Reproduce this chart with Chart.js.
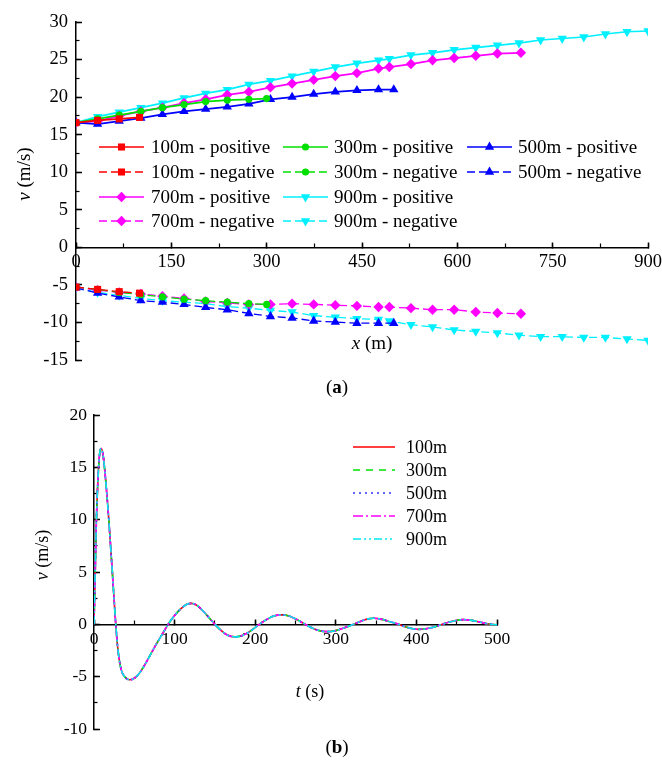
<!DOCTYPE html>
<html>
<head>
<meta charset="utf-8">
<script src="https://cdn.jsdelivr.net/npm/chart.js@4.4.1/dist/chart.umd.min.js"></script>
<style>
  html, body { margin: 0; padding: 0; background: #fff; }
  canvas { position: absolute; left: 0; }
</style>
</head>
<body>
<canvas id="chartA" width="662" height="400" style="top:0"></canvas>
<canvas id="chartB" width="662" height="367" style="top:400px"></canvas>
<script>
// panel (a): velocity along the line, positive and negative envelopes
const x100 = [0, 34, 68, 100];
const pos100 = [16.6, 16.9, 17.1, 17.3];
const neg100 = [-5.3, -5.6, -5.9, -6.1];

const x300 = [0, 34, 68, 102, 136, 170, 204, 238, 272, 300];
const pos300 = [16.6, 17.1, 17.6, 18.1, 18.6, 19.0, 19.4, 19.6, 19.7, 19.8];
const neg300 = [-5.3, -5.6, -6.0, -6.3, -6.6, -6.9, -7.1, -7.3, -7.5, -7.6];

const x500 = [0, 34, 68, 102, 136, 170, 204, 238, 272, 306, 340, 374, 408, 442, 476, 500];
const pos500 = [16.6, 16.4, 16.8, 17.2, 17.7, 18.1, 18.4, 18.7, 19.1, 19.7, 20.0, 20.4, 20.7, 20.9, 21.0, 21.0];
const neg500 = [-5.4, -6.1, -6.6, -7.1, -7.3, -7.6, -8.0, -8.3, -8.8, -9.2, -9.4, -9.8, -9.95, -10.1, -10.1, -10.1];

const x700 = [0, 34, 68, 102, 136, 170, 204, 238, 272, 306, 340, 374, 408, 442, 476, 493, 527, 561, 595, 629, 663, 700];
const pos700 = [16.6, 16.8, 17.5, 18.1, 18.6, 19.2, 19.7, 20.3, 20.7, 21.3, 21.8, 22.3, 22.8, 23.2, 23.8, 24.0, 24.4, 24.9, 25.2, 25.5, 25.8, 25.9];
const neg700 = [-5.3, -5.7, -6.0, -6.2, -6.5, -6.8, -7.2, -7.4, -7.6, -7.6, -7.5, -7.6, -7.7, -7.8, -7.95, -7.95, -8.1, -8.3, -8.3, -8.6, -8.75, -8.85];

const x900 = [0, 34, 68, 102, 136, 170, 204, 238, 272, 306, 340, 374, 408, 442, 476, 493, 527, 561, 595, 629, 663, 697, 731, 765, 799, 833, 867, 900];
const pos900 = [16.6, 17.4, 18.0, 18.6, 19.2, 19.9, 20.5, 21.0, 21.7, 22.2, 22.8, 23.4, 24.0, 24.5, 24.9, 25.1, 25.6, 25.9, 26.3, 26.6, 26.9, 27.2, 27.6, 27.8, 28.0, 28.4, 28.7, 28.8];
const neg900 = [-5.4, -6.0, -6.4, -6.8, -7.1, -7.3, -7.5, -7.9, -8.1, -8.4, -8.6, -9.1, -9.3, -9.5, -9.6, -9.8, -10.3, -10.6, -11.0, -11.2, -11.4, -11.7, -11.9, -11.9, -12.0, -12.0, -12.2, -12.4];

// panel (b): velocity history, the five lengths overlap
const lengths = ['100m', '300m', '500m', '700m', '900m'];
const tTime = [0, 1.5, 3, 5, 7, 9, 11, 13, 15, 17, 19, 21, 23, 25, 27, 29, 31, 34, 38, 44,
  49, 55, 62, 70, 78, 85, 92, 100, 108, 116, 121, 128, 135, 142, 150, 158, 166, 175, 183, 192,
  205, 215, 224, 233, 242, 252, 262, 272, 281, 290, 300, 310, 322, 332, 340, 347, 356, 366, 378, 388,
  396, 403, 412, 422, 432, 441, 450, 458, 467, 477, 488, 500];
const vTime = [0, 5, 10, 14, 16.3, 16.8, 16.3, 15, 13.3, 11.4, 9.3, 7, 4.7, 2.3, 0, -1.9, -3.2, -4.4, -5.0, -5.3,
  -5.2, -4.8, -4.0, -2.9, -1.8, -0.9, 0, 0.85, 1.5, 1.95, 2.0, 1.8, 1.3, 0.7, 0, -0.6, -1.05, -1.2, -1.1, -0.75,
  0, 0.5, 0.82, 0.9, 0.8, 0.45, 0, -0.4, -0.63, -0.7, -0.6, -0.35, 0, 0.33, 0.52, 0.58, 0.5, 0.28, 0, -0.28,
  -0.43, -0.48, -0.42, -0.25, 0, 0.22, 0.38, 0.45, 0.4, 0.25, 0.05, -0.05];

const serif = "'Liberation Serif', 'Times New Roman', serif";
Chart.defaults.font.family = serif;
Chart.defaults.color = '#000';

// styles
const seriesA = [
  { name: '100m', xs: x100, pos: pos100, neg: neg100, color: '#ff0000', style: 'rect', r: 5, rot: 0 },
  { name: '300m', xs: x300, pos: pos300, neg: neg300, color: '#00e000', style: 'circle', r: 3.6, rot: 0 },
  { name: '500m', xs: x500, pos: pos500, neg: neg500, color: '#0000ff', style: 'triangle', r: 5.4, rot: 0 },
  { name: '700m', xs: x700, pos: pos700, neg: neg700, color: '#ff00ff', style: 'rectRot', r: 5.2, rot: 0 },
  { name: '900m', xs: x900, pos: pos900, neg: neg900, color: '#00f0ff', style: 'triangle', r: 5.4, rot: 180 }
];
const negDash = [8, 4];

const dsA = [];
seriesA.forEach(s => {
  ['pos', 'neg'].forEach(k => {
    dsA.push({
      label: s.name + (k === 'pos' ? ' - positive' : ' - negative'),
      data: s.xs.map((x, i) => ({ x: x, y: s[k][i] })),
      borderColor: s.color,
      backgroundColor: s.color,
      borderWidth: k === 'pos' ? 1.7 : 1.3,
      borderDash: k === 'pos' ? [] : negDash,
      pointStyle: s.style,
      pointRadius: s.r,
      pointRotation: s.rot,
      pointBorderWidth: 0,
      showLine: true,
      tension: 0
    });
  });
});

function drawRuns(ctx, runs, x, y) {
  let total = 0;
  runs.forEach(r => { ctx.font = r[1]; total += ctx.measureText(r[0]).width; });
  let cx = x - total / 2;
  ctx.textAlign = 'left';
  ctx.textBaseline = 'middle';
  runs.forEach(r => { ctx.font = r[1]; ctx.fillText(r[0], cx, y); cx += ctx.measureText(r[0]).width; });
}

function legendLine(ctx, x0, x1, y, color, dash, width) {
  ctx.save();
  ctx.strokeStyle = color;
  ctx.lineWidth = width;
  ctx.setLineDash(dash);
  ctx.beginPath();
  ctx.moveTo(x0, y);
  ctx.lineTo(x1, y);
  ctx.stroke();
  ctx.restore();
}

const fontA = '19px ' + serif;
const italicA = 'italic 19px ' + serif;
const fontB = '18px ' + serif;
const italicB = 'italic 18px ' + serif;

// legend + titles for (a)
const decorA = {
  id: 'decorA',
  afterDraw(chart) {
    const ctx = chart.ctx;
    const lineStart = [99, 283, 467];
    const textX = [151, 334, 518];
    const rows = [
      { y: 147, idx: [0, 1, 2], k: 'pos' },
      { y: 172, idx: [0, 1, 2], k: 'neg' },
      { y: 197, idx: [3, 4], k: 'pos' },
      { y: 221, idx: [3, 4], k: 'neg' }
    ];
    ctx.save();
    rows.forEach(row => {
      row.idx.forEach((si, col) => {
        const s = seriesA[si];
        const x0 = lineStart[col];
        legendLine(ctx, x0, x0 + 45, row.y, s.color, row.k === 'pos' ? [] : negDash, row.k === 'pos' ? 1.7 : 1.3);
        ctx.fillStyle = s.color;
        Chart.helpers.drawPoint(ctx, { pointStyle: s.style, radius: s.r, rotation: s.rot, borderWidth: 0 }, x0 + 22.5, row.y);
        ctx.fillStyle = '#000';
        ctx.font = fontA;
        ctx.textAlign = 'left';
        ctx.textBaseline = 'middle';
        ctx.fillText(s.name + (row.k === 'pos' ? ' - positive' : ' - negative'), textX[col], row.y + 1);
      });
    });
    ctx.fillStyle = '#000';
    drawRuns(ctx, [['x', italicA], [' (m)', fontA]], 372, 344);
    ctx.save();
    ctx.translate(25, 174);
    ctx.rotate(-Math.PI / 2);
    drawRuns(ctx, [['v', italicA], [' (m/s)', fontA]], 0, 0);
    ctx.restore();
    drawRuns(ctx, [['(', fontA], ['a', 'bold 19px ' + serif], [')', fontA]], 337, 388);
    ctx.restore();
  }
};

function zeroFit(s) { s.paddingLeft = 0; s.paddingRight = 0; s.paddingTop = 0; s.paddingBottom = 0; }

function axesFor(xMax, xStep, yMin, yMax, yStep, yWidth, xPad, yPad, fontSize) {
  const gridMajor = { drawOnChartArea: false, tickLength: -6, tickWidth: 1.5, tickColor: '#000' };
  const gridMinor = { drawOnChartArea: false, tickLength: -3.5, tickWidth: 1.2, tickColor: '#000' };
  return {
    x: {
      type: 'linear', min: 0, max: xMax, position: { y: 0 },
      ticks: { stepSize: xStep, padding: xPad, font: { size: fontSize }, color: '#000', maxRotation: 0, autoSkip: false },
      grid: gridMajor,
      border: { color: '#000', width: 1.5 },
      afterFit(s) { s.height = 0; zeroFit(s); }
    },
    xMinor: {
      type: 'linear', axis: 'x', min: 0, max: xMax, position: { y: 0 },
      ticks: { stepSize: xStep / 2, display: false, autoSkip: false },
      grid: gridMinor,
      border: { display: false },
      afterFit(s) { s.height = 0; zeroFit(s); }
    },
    y: {
      type: 'linear', min: yMin, max: yMax, position: 'left',
      ticks: { stepSize: yStep, padding: yPad, font: { size: fontSize }, color: '#000', autoSkip: false },
      grid: gridMajor,
      border: { color: '#000', width: 1.5 },
      afterFit(s) { s.width = yWidth; zeroFit(s); }
    },
    yMinor: {
      type: 'linear', axis: 'y', min: yMin, max: yMax, position: { x: 0 },
      ticks: { stepSize: yStep / 2, display: false, autoSkip: false },
      grid: gridMinor,
      border: { display: false },
      afterFit(s) { s.width = 0; zeroFit(s); }
    }
  };
}

new Chart(document.getElementById('chartA'), {
  type: 'scatter',
  data: { datasets: dsA },
  options: {
    responsive: false,
    animation: false,
    events: [],
    layout: { padding: { left: 0, right: 14, top: 22, bottom: 40 } },
    plugins: { legend: { display: false }, tooltip: { enabled: false } },
    scales: axesFor(900, 150, -15, 30, 5, 76, 10, 14, 18.5)
  },
  plugins: [decorA]
});

// panel (b)
const seriesB = [
  { color: '#ff0000', dash: [] },
  { color: '#00e000', dash: [7, 6] },
  { color: '#3030ff', dash: [2, 4] },
  { color: '#ff00ff', dash: [10, 3, 2, 3] },
  { color: '#00e8f0', dash: [8, 3, 2, 3, 2, 3] }
];

const dsB = lengths.map((name, i) => ({
  label: name,
  data: tTime.map((t, j) => ({ x: t, y: vTime[j] })),
  borderColor: seriesB[i].color,
  borderDash: seriesB[i].dash,
  borderWidth: 1.6,
  pointRadius: 0,
  showLine: true,
  cubicInterpolationMode: 'monotone',
  order: lengths.length - i
}));

const decorB = {
  id: 'decorB',
  afterDraw(chart) {
    const ctx = chart.ctx;
    const rowY = [47, 70, 93, 116, 139];
    ctx.save();
    lengths.forEach((name, i) => {
      legendLine(ctx, 353, 395, rowY[i], seriesB[i].color, seriesB[i].dash, 1.5);
      ctx.fillStyle = '#000';
      ctx.font = fontB;
      ctx.textAlign = 'left';
      ctx.textBaseline = 'middle';
      ctx.fillText(name, 406, rowY[i] + 1);
    });
    drawRuns(ctx, [['t', italicB], [' (s)', fontB]], 310, 292);
    ctx.save();
    ctx.translate(43, 155);
    ctx.rotate(-Math.PI / 2);
    drawRuns(ctx, [['v', italicB], [' (m/s)', fontB]], 0, 0);
    ctx.restore();
    drawRuns(ctx, [['(', fontA], ['b', 'bold 19px ' + serif], [')', fontA]], 337, 348);
    ctx.restore();
  }
};

new Chart(document.getElementById('chartB'), {
  type: 'scatter',
  data: { datasets: dsB },
  options: {
    responsive: false,
    animation: false,
    events: [],
    layout: { padding: { left: 0, right: 165, top: 15, bottom: 38 } },
    plugins: { legend: { display: false }, tooltip: { enabled: false } },
    scales: axesFor(500, 100, -10, 20, 5, 94, 11, 13, 17.5)
  },
  plugins: [decorB]
});
</script>
</body>
</html>
